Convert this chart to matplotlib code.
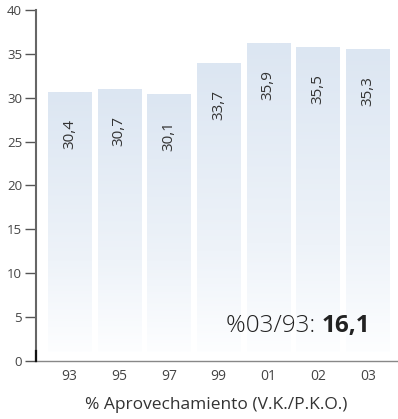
import numpy as np
import matplotlib
matplotlib.use("Agg")
import matplotlib.pyplot as plt
from matplotlib.colors import LinearSegmentedColormap

years = ["93", "95", "97", "99", "01", "02", "03"]
values = [30.4, 30.7, 30.1, 33.7, 35.9, 35.5, 35.3]
labels = ["30,4", "30,7", "30,1", "33,7", "35,9", "35,5", "35,3"]
yticks = [0, 5, 10, 15, 20, 25, 30, 35, 40]

plt.rcParams["font.family"] = ["Open Sans", "DejaVu Sans"]

fig = plt.figure(figsize=(3.98, 4.19), dpi=100)
ax = fig.add_axes([36 / 398, 58 / 419, 362 / 398, 351 / 419])

# light blue on top, fading to white towards the base
cmap = LinearSegmentedColormap.from_list(
    "fade", [(0, "#fdfeff"), (0.35, "#eef3f9"), (1, "#dce6f2")])
grad = np.linspace(0, 1, 256).reshape(-1, 1)
w = 0.87
x = np.arange(len(values))
for xi, v, lab in zip(x, values, labels):
    ax.imshow(grad, cmap=cmap, origin="lower", aspect="auto",
              extent=[xi - w / 2, xi + w / 2, 1.0, v + 0.2], zorder=1)
    ax.text(xi, v - 4.5, lab, rotation=90, ha="center", va="center",
            fontsize=11, color="#333333", zorder=3)

ax.set_xlim(-0.675, 6.61)
ax.set_ylim(0, 40)
ax.set_xticks(x)
ax.set_xticklabels(years, fontsize=10, color="#444444")
ax.tick_params(axis="x", length=0, pad=6)
ax.set_yticks(yticks)
ax.set_yticklabels([str(t) for t in yticks], fontsize=9.5, color="#444444")
ax.tick_params(axis="y", length=8, width=1, color="#555555", pad=2)

for s in ["top", "right"]:
    ax.spines[s].set_visible(False)
ax.spines["left"].set_color("#666666")
ax.spines["left"].set_linewidth(1.5)
ax.spines["bottom"].set_color("#888888")
ax.spines["bottom"].set_linewidth(1)
ax.plot([-0.675, -0.675], [0, 1.1], color="#111111", lw=1.6, clip_on=False, zorder=4)

bold = ax.text(6.05, 4.0, "16,1", ha="right", va="center", fontsize=17.5,
               fontweight="bold", color="#222222", zorder=3)
ax.annotate("%03/93: ", xy=(0, 0.5), xycoords=bold, ha="right", va="center",
            fontsize=17.5, fontweight="light", color="#222222", zorder=3)

fig.text(216 / 398, 1 - 405 / 419, "% Aprovechamiento (V.K./P.K.O.)",
         ha="center", va="center", fontsize=12.5, color="#333333")

fig.savefig("out.png", dpi=100)
